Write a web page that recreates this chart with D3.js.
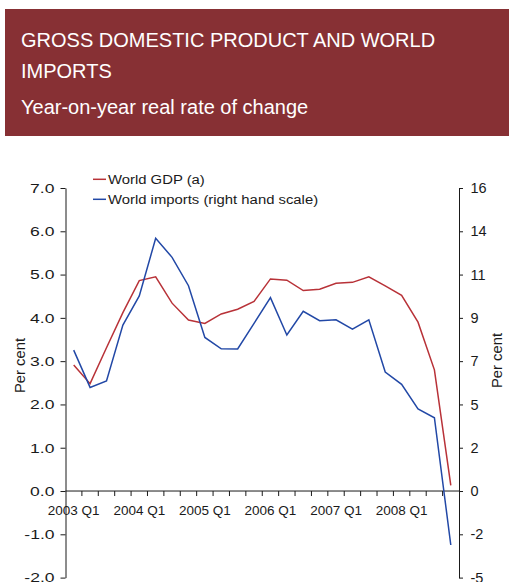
<!DOCTYPE html>
<html>
<head>
<meta charset="utf-8">
<script src="https://cdn.jsdelivr.net/npm/d3@7"></script>
<style>
  html, body { margin: 0; padding: 0; background: #fff; }
  svg { display: block; font-family: "Liberation Sans", Arial, sans-serif; }
</style>
</head>
<body>
<svg id="chart" width="509" height="582"></svg>
<script>
// Quarterly periods, 2003 Q1 – 2008 Q4
const quarters = [
  "2003 Q1","2003 Q2","2003 Q3","2003 Q4",
  "2004 Q1","2004 Q2","2004 Q3","2004 Q4",
  "2005 Q1","2005 Q2","2005 Q3","2005 Q4",
  "2006 Q1","2006 Q2","2006 Q3","2006 Q4",
  "2007 Q1","2007 Q2","2007 Q3","2007 Q4",
  "2008 Q1","2008 Q2","2008 Q3","2008 Q4"
];
// World GDP, year-on-year % (left scale)
const worldGDP = [
  2.91, 2.48, 3.31, 4.12, 4.86, 4.95, 4.34, 3.95,
  3.87, 4.09, 4.20, 4.38, 4.90, 4.87, 4.63, 4.66,
  4.80, 4.82, 4.95, 4.74, 4.52, 3.90, 2.80, 0.13
];
// World imports, year-on-year % (right scale)
const worldImports = [
  7.44, 5.47, 5.81, 8.76, 10.30, 13.34, 12.34, 10.84,
  8.11, 7.51, 7.50, 8.85, 10.21, 8.24, 9.49, 8.99,
  9.04, 8.55, 9.04, 6.28, 5.63, 4.33, 3.87, -2.85
];
// Axis ticks
const xTickLabels = ["2003 Q1","2004 Q1","2005 Q1","2006 Q1","2007 Q1","2008 Q1"];
const leftTicks = [-2, -1, 0, 1, 2, 3, 4, 5, 6, 7];
const rightTickLabels = ["-5","-2","0","2","5","7","9","11","14","16"];
const leftMax = 7, leftMin = -2, rightMax = 16;

const title1 = "GROSS DOMESTIC PRODUCT AND WORLD";
const title2 = "IMPORTS";
const subtitle = "Year-on-year real rate of change";

const svg = d3.select("#chart");

// Header band
svg.append("rect")
  .attr("x", 5).attr("y", 9).attr("width", 504).attr("height", 127)
  .attr("fill", "#873034");
const head = svg.append("g").attr("fill", "#fff").attr("font-size", 20);
head.append("text").attr("x", 21).attr("y", 47).text(title1);
head.append("text").attr("x", 21).attr("y", 78).text(title2);
head.append("text").attr("x", 21).attr("y", 114).text(subtitle);

// Plot geometry
const plotLeft = 65.5, plotRight = 459, plotTop = 188, plotBottom = 577.6;

const x = d3.scaleBand().domain(quarters).range([plotLeft, plotRight]).padding(0);
const yL = d3.scaleLinear().domain([leftMin, leftMax]).range([plotBottom, plotTop]);
// Right scale shares zero and the top gridline with the left one
const yR = d3.scaleLinear().domain([leftMin * rightMax / leftMax, rightMax]).range([plotBottom, plotTop]);

const ink = "#1a1a1a";
const fontFam = "Liberation Sans, Arial, sans-serif";

// Left axis (labels drawn slightly widened)
const leftStretch = 1.3;
const gL = svg.append("g").attr("transform", `translate(${plotLeft},0)`)
  .call(d3.axisLeft(yL).tickValues(leftTicks).tickSize(5).tickSizeOuter(0)
    .tickFormat(d => d3.format(".1f")(d).replace("−", "-")));
gL.select(".domain").attr("stroke", ink);
gL.selectAll(".tick line").attr("stroke", ink);
gL.selectAll(".tick text").attr("font-size", 13.5).attr("fill", ink)
  .attr("font-family", fontFam)
  .attr("x", -11 / leftStretch)
  .attr("transform", `scale(${leftStretch},1)`);

// Right axis (labels rounded from the shared gridlines)
const rightTickValues = leftTicks.map(v => v * rightMax / leftMax);
const gR = svg.append("g").attr("transform", `translate(${plotRight},0)`)
  .call(d3.axisRight(yR).tickValues(rightTickValues).tickSize(4).tickSizeOuter(0)
    .tickFormat((d, i) => rightTickLabels[i]));
gR.select(".domain").attr("stroke", ink);
gR.selectAll(".tick line").attr("stroke", ink);
gR.selectAll(".tick text").attr("font-size", 14.5).attr("fill", ink)
  .attr("x", 11.5).attr("font-family", fontFam);

// Category axis on the zero line
const y0 = yL(0);
const gX = svg.append("g").attr("transform", `translate(0,${y0})`)
  .call(d3.axisBottom(x).tickSize(0).tickSizeOuter(0)
    .tickFormat(d => xTickLabels.includes(d) ? d : ""));
gX.select(".domain").attr("stroke", ink).attr("d", `M${plotLeft},0H${plotRight}`);
gX.selectAll(".tick text").attr("font-size", 13.5).attr("fill", ink)
  .attr("y", 14).attr("dy", "0.71em").attr("font-family", fontFam);
// Tick marks at category boundaries
svg.append("g").selectAll("line")
  .data(quarters.slice(1))
  .join("line")
  .attr("x1", d => x(d)).attr("x2", d => x(d))
  .attr("y1", y0).attr("y2", y0 + 5)
  .attr("stroke", ink);

// Axis titles
svg.append("text")
  .attr("transform", `translate(25,365.5) rotate(-90)`)
  .attr("text-anchor", "middle").attr("font-size", 14.8).attr("fill", ink)
  .text("Per cent");
svg.append("text")
  .attr("transform", `translate(502,360.5) rotate(-90)`)
  .attr("text-anchor", "middle").attr("font-size", 14.8).attr("fill", ink)
  .text("Per cent");

// Series lines
const cx = d => x(d) + x.bandwidth() / 2;
const lineL = d3.line().x((d, i) => cx(quarters[i])).y(d => yL(d));
const lineR = d3.line().x((d, i) => cx(quarters[i])).y(d => yR(d));

const red = "#B83238", blue = "#2248A6";
svg.append("path").datum(worldGDP).attr("d", lineL)
  .attr("fill", "none").attr("stroke", red).attr("stroke-width", 1.5);
svg.append("path").datum(worldImports).attr("d", lineR)
  .attr("fill", "none").attr("stroke", blue).attr("stroke-width", 1.5);

// Legend
const legend = [
  { label: "World GDP (a)", color: red },
  { label: "World imports (right hand scale)", color: blue }
];
const lg = svg.append("g").selectAll("g").data(legend).join("g")
  .attr("transform", (d, i) => `translate(93,${179.3 + i * 20})`);
lg.append("line").attr("x1", 0).attr("x2", 13).attr("y1", 0).attr("y2", 0)
  .attr("stroke", d => d.color).attr("stroke-width", 1.5);
lg.append("text").attr("x", 15).attr("dy", "0.35em")
  .attr("transform", "scale(1.1,1)")
  .attr("x", 15 / 1.1)
  .attr("font-size", 13.5).attr("fill", ink).text(d => d.label);
</script>
</body>
</html>
